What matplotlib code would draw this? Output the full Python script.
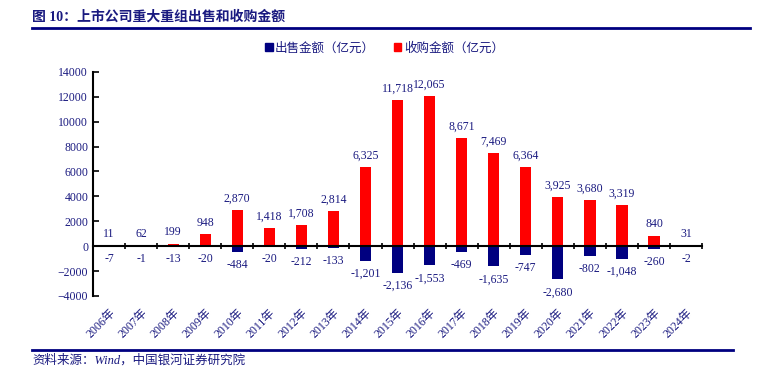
import matplotlib.pyplot as plt
import numpy as np
from matplotlib.lines import Line2D
from matplotlib.patches import Patch
import matplotlib.transforms as mtransforms

plt.rcParams["font.family"] = ["Liberation Serif", "Noto Sans CJK SC"]

YEARS = [f"{y}年" for y in range(2006, 2025)]
BUY = [11, 62, 199, 948, 2870, 1418, 1708, 2814, 6325, 11718, 12065, 8671,
       7469, 6364, 3925, 3680, 3319, 840, 31]
SELL = [-7, -1, -13, -20, -484, -20, -212, -133, -1201, -2136, -1553, -469,
        -1635, -747, -2680, -802, -1048, -260, -2]

NAVY = "#000080"
RED = "#FF0000"
TXT = "#1A1A80"


def main() -> None:
    fig = plt.figure(figsize=(7.69, 3.76), dpi=100)
    ax = fig.add_axes([0.121, 0.213, 0.792, 0.596])

    x = np.arange(len(YEARS))
    ax.bar(x, BUY, width=0.35, color=RED, zorder=2)
    ax.bar(x, SELL, width=0.35, color=NAVY, zorder=2)

    for i, (b, s) in enumerate(zip(BUY, SELL)):
        ax.annotate(f"{b:,}", (i, b), xytext=(0, 4), textcoords="offset points",
                    ha="center", va="bottom", fontsize=8.5, color=TXT)
        ax.annotate(f"{s:,}", (i, s), xytext=(0, -5), textcoords="offset points",
                    ha="center", va="top", fontsize=8.5, color=TXT)

    ax.set_xlim(-0.5, len(YEARS) - 0.5)
    ax.set_ylim(-4000, 14000)
    ax.set_yticks(np.arange(-4000, 14001, 2000))
    ax.tick_params(axis="y", direction="in", length=4, labelsize=8.5,
                   labelcolor=TXT, width=1.2)

    for s in ["top", "right"]:
        ax.spines[s].set_visible(False)
    ax.spines["left"].set_linewidth(1.5)
    ax.spines["bottom"].set_position(("data", 0))
    ax.spines["bottom"].set_linewidth(1.5)
    ax.set_xticks(np.arange(-0.5, len(YEARS), 1.0))
    ax.set_xticklabels([])
    ax.tick_params(axis="x", direction="inout", length=5, width=1.2)

    trans = mtransforms.blended_transform_factory(ax.transData, ax.transAxes)
    for i, lab in enumerate(YEARS):
        ax.text(i, -0.05, lab, transform=trans, rotation=45,
                ha="right", va="top", fontsize=8.5, color=TXT,
                rotation_mode="anchor")

    handles = [Patch(color=NAVY, label="出售金额（亿元）"),
               Patch(color=RED, label="收购金额（亿元）")]
    fig.legend(handles=handles, loc="center", bbox_to_anchor=(0.5, 0.872),
               ncol=2, frameon=False, fontsize=9, handlelength=0.6,
               handleheight=0.6, handletextpad=0.2, columnspacing=1.5,
               labelcolor=TXT)

    fig.text(0.042, 0.955, "图 10：上市公司重大重组出售和收购金额",
             fontsize=10, fontweight="bold", color=TXT, va="center")
    fig.add_artist(Line2D([0.042, 0.975], [0.925, 0.925], color=NAVY, lw=2))
    fig.add_artist(Line2D([0.042, 0.953], [0.069, 0.069], color=NAVY, lw=2))
    fig.text(0.042, 0.04, "资料来源：Wind，中国银河证券研究院", fontsize=9,
             style="italic", color=TXT, va="center")

    fig.savefig("out.png", dpi=100)


if __name__ == "__main__":
    main()
